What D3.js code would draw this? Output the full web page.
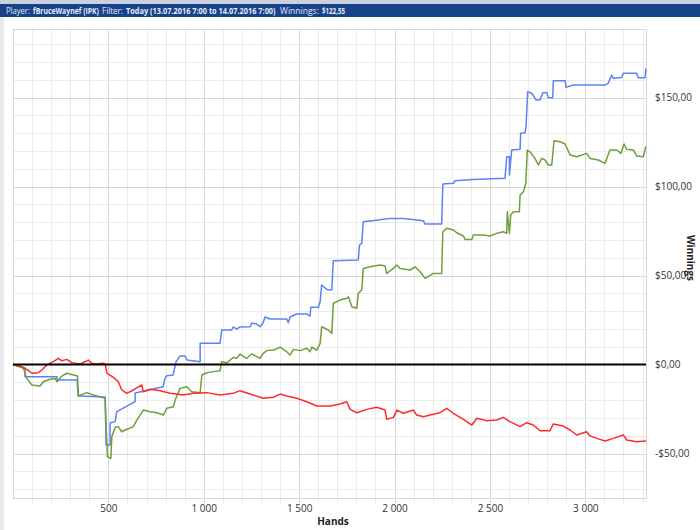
<!DOCTYPE html>
<html><head><meta charset="utf-8">
<script src="https://cdn.jsdelivr.net/npm/d3@7"></script>
<style>body{margin:0;background:#fff;}svg{display:block;}</style>
</head><body><svg id="c" width="700" height="530"></svg>
<script>
// ---- data ----
const headerTexts = ["Player:", "fBruceWaynef (IPK)", "Filter:", "Today (13.07.2016 7:00 to 14.07.2016 7:00)", "Winnings:", "$122,55"];
const headerBold = [false, true, false, true, false, true];
const xTickValues = [500, 1000, 1500, 2000, 2500, 3000];
const yTickValues = [-50, 0, 50, 100, 150];
const xTitle = "Hands";
const yTitle = "Winnings";

// Blue series (showdown winnings)
const blueHands = [0,63,63,231,231,336,341,483,488,509,509,535,544,640,640,787,797,806,839,855,876,902,912,981,981,1085,1094,1147,1154,1173,1190,1243,1252,1278,1295,1311,1321,1347,1435,1443,1452,1487,1540,1557,1561,1601,1610,1618,1645,1671,1679,1810,1816,1828,1836,1915,1976,2046,2151,2160,2247,2253,2308,2317,2413,2579,2588,2602,2602,2614,2658,2661,2684,2689,2698,2719,2742,2763,2777,2798,2806,2829,2832,2894,2899,2937,3103,3120,3138,3147,3191,3199,3269,3278,3313,3318];
const blueValues = [0,-2.0,-6.9,-6.9,-8.7,-8.7,-17.7,-18.3,-45.2,-45.2,-32.9,-32.1,-26.5,-20.9,-16.0,-12.5,-7.6,-6.3,-5.9,1.6,4.8,4.8,2.5,1.6,11.9,11.9,19.4,19.4,21.1,19.9,21.1,21.2,23.3,22.7,21.2,23.5,26.7,25.6,25.6,23.5,26.7,28.4,28.4,27.2,32.1,32.1,35.3,44.7,42.2,41.9,58.3,58.7,67.1,68.1,80.2,81.2,82.1,82.1,80.8,78.9,78.9,101.4,101.8,103.3,104.0,104.6,116.7,116.7,106.5,120.5,120.9,129.9,130.2,133.6,153.3,152.4,148.6,148.6,152.7,152.7,149.9,149.9,159.4,159.4,155.7,157.0,157.0,158.0,162.6,160.8,161.3,163.6,163.6,161.1,161.1,166.4];

// Green series (net winnings)
const greenHands = [0,55,72,99,142,159,194,221,230,256,282,317,338,343,387,421,456,483,488,495,513,518,535,552,570,588,631,649,683,719,754,788,806,841,850,876,911,937,981,990,1016,1050,1085,1094,1121,1155,1173,1190,1225,1252,1278,1295,1312,1330,1365,1400,1435,1452,1470,1505,1540,1557,1566,1592,1610,1618,1653,1671,1679,1714,1750,1758,1776,1802,1810,1828,1836,1872,1924,1950,1959,1994,2012,2029,2081,2107,2134,2160,2203,2247,2253,2274,2308,2326,2361,2369,2405,2413,2465,2500,2536,2570,2588,2591,2602,2609,2623,2654,2658,2675,2688,2696,2710,2736,2754,2771,2789,2806,2824,2836,2867,2894,2920,2955,3007,3025,3068,3103,3129,3165,3186,3203,3217,3252,3269,3304,3318];
const greenValues = [0,-2.1,-7.8,-11.5,-12.1,-9.7,-8.3,-7.8,-9.7,-6.5,-4.9,-5.9,-6.5,-17.7,-15.8,-17.1,-18.1,-19.0,-34.9,-51.8,-52.7,-40.6,-35.3,-34.9,-37.8,-36.8,-34.9,-31.2,-25.6,-26.5,-27.1,-28.4,-24.6,-23.7,-19.9,-13.4,-12.5,-15.3,-15.8,-5.9,-4.6,-4.0,-3.5,1.6,1.0,4.0,3.5,5.9,3.5,5.9,4.4,3.5,6.3,7.8,8.1,9.7,7.2,5.3,8.5,7.8,9.1,7.2,9.7,8.1,11.9,21.2,19.4,17.5,34.4,36.2,37.2,38.1,32.5,31.6,40.0,41.9,54.0,54.9,55.9,55.3,51.2,54.0,55.9,54.0,53.1,54.9,52.1,48.4,51.2,51.2,74.6,76.5,75.6,74.0,72.2,70.3,70.3,72.8,72.8,72.2,73.7,74.6,73.7,85.8,73.7,84.0,85.8,85.8,95.2,97.1,101.8,120.5,119.5,115.8,112.1,115.8,114.9,112.1,112.1,125.7,125.2,123.9,117.7,116.7,118.6,115.8,114.9,113.0,120.5,120.5,118.6,123.9,120.9,120.5,117.1,116.7,122.55];

// Red series (non-showdown winnings)
const redHands = [0,37,72,99,133,151,177,194,212,238,256,282,308,352,395,413,439,474,483,492,526,552,570,596,631,675,683,719,771,823,893,945,1016,1085,1155,1190,1243,1312,1365,1400,1435,1487,1540,1592,1662,1714,1750,1767,1802,1854,1907,1950,1959,1994,2012,2046,2099,2116,2151,2186,2238,2274,2308,2361,2405,2431,2483,2536,2570,2605,2658,2693,2727,2763,2815,2832,2885,2920,2955,3007,3025,3060,3103,3147,3199,3217,3269,3318];
const redValues = [0,-0.8,-2.7,-4.9,-4.6,-3.1,-0.3,0.7,1.6,3.5,2.1,2.9,1.0,0.3,2.5,0.7,0.3,0.7,0.3,-4.9,-7.2,-9.7,-14.3,-16.2,-14.3,-11.5,-15.3,-13.9,-14.7,-16.2,-17.1,-16.2,-15.8,-17.1,-16.2,-14.7,-16.6,-19.0,-18.4,-16.6,-17.7,-19.0,-20.9,-23.3,-23.3,-22.2,-20.9,-25.2,-27.1,-25.2,-24.0,-25.6,-30.8,-29.7,-25.6,-27.4,-25.6,-28.4,-29.3,-28.4,-27.1,-24.6,-27.4,-30.8,-34.0,-30.2,-31.6,-31.2,-29.7,-32.1,-34.9,-32.7,-34.0,-37.2,-37.2,-33.4,-34.6,-36.8,-39.6,-37.8,-40.2,-41.5,-43.0,-41.5,-39.6,-42.4,-43.4,-43.0];

// ---- drawing ----
(function () {
const svg = d3.select("#c");
const W = 700, H = 530;
const pL = 13, pR = 646, pT = 29, pB = 498;
const x = d3.scaleLinear().domain([0, 3318]).range([pL, pR]);
const y = d3.scaleLinear().domain([-75, 188.5]).range([pB, pT]);

// header bar
svg.append("rect").attr("x",0).attr("y",0).attr("width",W).attr("height",4).attr("fill","#c9d1de");
svg.append("rect").attr("x",0).attr("y",4).attr("width",W).attr("height",13).attr("fill","#17428a");
// header text pieces: start x and width taken from the reference layout (condensed by horizontal scaling)
const headerX = [6, 33, 102, 126, 280, 322];
const headerW = [24, 66, 21, 150, 39, 23];
headerTexts.forEach((t, i) => {
  const gg = svg.append("g");
  const tx = gg.append("text").attr("x", 0).attr("y", 0)
    .attr("font-family","'Open Sans', sans-serif").attr("font-size",8.5)
    .attr("font-weight", headerBold[i] ? "bold" : "normal").attr("fill","#e6ebf5").text(t);
  const natural = tx.node().getComputedTextLength();
  gg.attr("transform", `translate(${headerX[i]},13.5) scale(${headerW[i] / natural},1)`);
});
// left strip
svg.append("rect").attr("x",0).attr("y",17).attr("width",4).attr("height",H-17).attr("fill","#e7ebf1");

// grid
const g = svg.append("g");
d3.range(100, 3318, 100).forEach(h => {
  g.append("line").attr("x1",Math.round(x(h))+0.5).attr("x2",Math.round(x(h))+0.5).attr("y1",pT).attr("y2",pB+5)
    .attr("stroke", h % 500 === 0 ? "#d6d6d6" : "#ebebeb").attr("stroke-width",1);
});
d3.range(-70, 189, 10).forEach(v => {
  if (v === 0) return;
  g.append("line").attr("x1",pL).attr("x2",pR).attr("y1",Math.round(y(v))+0.5).attr("y2",Math.round(y(v))+0.5)
    .attr("stroke", v % 50 === 0 ? "#d6d6d6" : "#ebebeb").attr("stroke-width",1);
});
// border
g.append("rect").attr("x",pL+0.5).attr("y",pT+0.5).attr("width",pR-pL).attr("height",pB-pT)
  .attr("fill","none").attr("stroke","#d8d8d8");

// axes labels
const fmtX = d => d3.format(",")(d).replace(/,/g, " ");
const fmtY = d => (d < 0 ? "-" : "") + "$" + Math.abs(d).toFixed(2).replace(".", ",");
const xa = svg.append("g").attr("transform",`translate(0,${pB})`)
  .call(d3.axisBottom(x).tickValues(xTickValues).tickFormat(fmtX).tickSize(0).tickPadding(7));
const ya = svg.append("g").attr("transform",`translate(${pR},0)`)
  .call(d3.axisRight(y).tickValues(yTickValues).tickFormat(fmtY).tickSize(0).tickPadding(9));
[xa, ya].forEach(a => {
  a.select(".domain").remove();
  a.selectAll("text").attr("font-family","'Open Sans', sans-serif").attr("font-size",10).attr("fill","#333");
});

svg.append("text").attr("x",333).attr("y",525).attr("text-anchor","middle")
  .attr("font-family","'Open Sans', sans-serif").attr("font-size",10).attr("font-weight","bold").attr("fill","#222").text(xTitle);
svg.append("text").attr("transform",`translate(687,258) rotate(90)`).attr("text-anchor","middle")
  .attr("font-family","'Open Sans', sans-serif").attr("font-size",10).attr("font-weight","bold").attr("fill","#222").text(yTitle);

// series
const line = d3.line().x(d => x(d[0])).y(d => y(d[1]));
const series = [
  {h: blueHands, v: blueValues, c: "#5b82f6"},
  {h: greenHands, v: greenValues, c: "#6f9e3c"},
  {h: redHands, v: redValues, c: "#ff2a2a"}
];
series.forEach(s => {
  svg.append("path").datum(s.h.map((h, i) => [h, s.v[i]])).attr("d", line)
    .attr("fill","none").attr("stroke", s.c).attr("stroke-width",1.5).attr("stroke-linejoin","round");
});

// zero line
svg.append("line").attr("x1",pL).attr("x2",pR).attr("y1",y(0)).attr("y2",y(0))
  .attr("stroke","#000").attr("stroke-width",2);
})();
</script></body></html>
